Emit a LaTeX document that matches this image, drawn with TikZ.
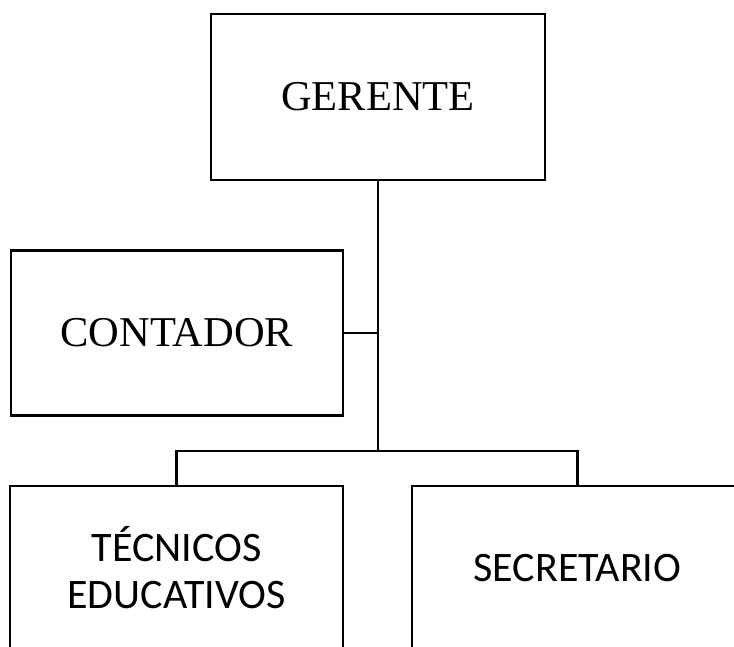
\documentclass[tikz,border=0pt]{standalone}
\usepackage{fontspec}
\newfontfamily\timesfont{Liberation Serif}
\newfontfamily\calfont{Carlito}
\begin{document}
\begin{tikzpicture}[x=1pt,y=-1pt,
  box/.style={draw,line width=2.8pt,inner sep=0pt,align=center},
  conn/.style={line width=2.8pt},
  serifbox/.style={box,font=\timesfont\fontsize{42.5}{47}\selectfont},
  sansbox/.style={box,font=\calfont\fontsize{42}{47}\selectfont}]
\useasboundingbox (0,0) rectangle (734,646);
\clip (0,0) rectangle (734,646);
\node[serifbox,minimum width=334pt,minimum height=166pt] (ger) at (378,97) {GERENTE};
\node[serifbox,minimum width=332pt,minimum height=165pt] (cont) at (177,333) {CONTADOR};
\node[sansbox,minimum width=333pt,minimum height=164pt] (tec) at (176.5,568) {TÉCNICOS\\EDUCATIVOS};
\node[sansbox,minimum width=331pt,minimum height=164pt] (sec) at (577.5,568) {SECRETARIO};
\coordinate (bus) at (378,451);
\draw[conn] (ger.south) -- (bus);
\draw[conn] (cont.east) -- (cont.east -| bus);
\draw[conn] (tec.north) |- (bus) -| (sec.north);
\end{tikzpicture}
\end{document}
